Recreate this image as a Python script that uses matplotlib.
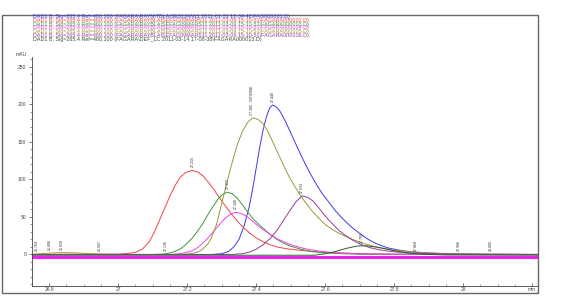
import matplotlib
matplotlib.use("Agg")
import matplotlib.pyplot as plt
from matplotlib.patches import Rectangle

plt.rcParams['font.family'] = ['Liberation Sans', 'DejaVu Sans']

# header lines (one per trace)
headers = [
    "DAD1 B, Sig=265,4 Ref=460,100 (FAGARA\\RAYN\\TBLAISE31JAN11 2011-01-31 12-34-42\\FAG000001.D)",
    "DAD1 B, Sig=265,4 Ref=460,100 (FAGARA\\RAYBLAISEFAG09MARS11 2011-03-09 15-10-51\\FAGARA000002.D)",
    "DAD1 B, Sig=265,4 Ref=460,100 (FAGARA\\RAYBLAISEFAG09MARS11 2011-03-09 15-10-51\\FAGARA000003.D)",
    "DAD1 B, Sig=265,4 Ref=460,100 (FAGARA\\RAYBLAISEFAG09MARS11 2011-03-09 15-10-51\\FAGARA000004.D)",
    "DAD1 B, Sig=265,4 Ref=460,100 (FAGARA\\RAYBLAISEFAG09MARS11 2011-03-09 15-10-51\\FAGARA000005.D)",
    "DAD1 B, Sig=265,4 Ref=460,100 (FAGARA\\RAYBLAISEFAG09MARS11 2011-03-09 15-10-51\\FAGARA000006.D)",
    "DAD1 B, Sig=265,4 Ref=460,100 (FAGARA\\DEF_LC 2011-03-14 17-08-38\\FAGARA000013.D)",
]
colors = ["#3a3aee", "#f04545", "#3a9a3a", "#f040f0", "#9a9a3a", "#9a3a9a", "#2f5a2f"]

# traces (time in min, signal in mAU)
blue_t = [26.75, 27.27, 27.30, 27.32, 27.335, 27.35, 27.365, 27.38, 27.39, 27.40, 27.41, 27.42,
          27.43, 27.44, 27.448, 27.46, 27.47, 27.485, 27.50, 27.515, 27.53, 27.545, 27.56, 27.575,
          27.59, 27.61, 27.63, 27.65, 27.675, 27.70, 27.725, 27.75, 27.78, 27.81, 27.85, 27.90,
          27.96, 28.05, 28.217]
blue_y = [0, 0, 1, 4, 10, 20, 38, 64, 88, 115, 142, 166,
          184, 196, 199, 196, 190, 177, 162, 147, 132, 118, 105, 93,
          82, 70, 58, 48, 37, 28, 20, 14, 9, 6, 3.5, 2,
          1, 0.3, 0]

red_t = [26.75, 27.00, 27.03, 27.05, 27.07, 27.09, 27.105, 27.12, 27.135, 27.15, 27.165, 27.18,
         27.195, 27.213, 27.23, 27.245, 27.26, 27.275, 27.29, 27.305, 27.32, 27.335, 27.35, 27.365,
         27.38, 27.40, 27.42, 27.44, 27.46, 27.49, 27.52, 27.56, 27.60, 27.65, 27.70, 27.80, 28.217]
red_y = [0, 0.5, 1.5, 3, 7, 17, 30, 46, 62, 78, 92, 103,
         109, 112, 110, 105, 97, 88, 78, 68, 59, 50, 42, 35,
         29, 22, 17, 13, 10, 7.5, 6, 4, 3, 2, 1, 0.3, 0]

green_t = [26.75, 27.10, 27.13, 27.15, 27.17, 27.185, 27.20, 27.215, 27.23, 27.245, 27.26, 27.275,
           27.29, 27.30, 27.315, 27.33, 27.345, 27.36, 27.375, 27.39, 27.405, 27.42, 27.44, 27.46,
           27.48, 27.50, 27.53, 27.56, 27.60, 27.65, 27.70, 28.217]
green_y = [0, 0, 0.5, 2, 5, 9, 15, 22, 31, 41, 53, 64,
           74, 79, 83, 81, 75, 66, 57, 48, 41, 35, 27, 20,
           15, 11, 7, 4, 2, 1, 0.3, 0]

magenta_t = [26.75, 27.15, 27.18, 27.20, 27.215, 27.23, 27.245, 27.26, 27.275, 27.29, 27.305, 27.32,
             27.335, 27.345, 27.36, 27.375, 27.39, 27.405, 27.42, 27.44, 27.46, 27.48, 27.50, 27.53,
             27.56, 27.59, 27.63, 27.70, 27.80, 28.217]
magenta_y = [0, 0, 1, 3, 5, 9, 15, 22, 30, 38, 46, 52,
             55.5, 56, 54, 50, 44, 38, 33, 27, 21, 17, 13, 9,
             6, 4, 2, 0.8, 0.2, 0]

olive_t = [26.75, 26.77, 26.80, 26.84, 26.88, 26.92, 26.96, 27.00, 27.18, 27.21, 27.23, 27.245,
           27.26, 27.27, 27.285, 27.30, 27.315, 27.33, 27.345, 27.36, 27.375, 27.39, 27.405, 27.42,
           27.435, 27.45, 27.465, 27.48, 27.495, 27.51, 27.525, 27.54, 27.56, 27.58, 27.60, 27.625,
           27.65, 27.68, 27.71, 27.74, 27.77, 27.80, 27.85, 27.90, 27.95, 28.05, 28.217]
olive_y = [0, 0.8, 1.8, 2.5, 2, 1, 0.3, 0, 0, 1, 3, 7,
           14, 22, 40, 68, 96, 122, 146, 164, 176, 182, 180, 174,
           163, 148, 133, 118, 104, 92, 81, 71, 59, 49, 40, 32,
           26, 20, 15, 11, 8, 5.5, 3.5, 2, 1, 0.3, 0]

purple_t = [26.75, 27.33, 27.36, 27.38, 27.40, 27.42, 27.44, 27.46, 27.48, 27.50, 27.515, 27.533,
            27.55, 27.565, 27.58, 27.595, 27.61, 27.625, 27.64, 27.66, 27.68, 27.70, 27.73, 27.76,
            27.80, 27.85, 27.92, 28.00, 28.217]
purple_y = [0, 0, 1, 3, 7, 13, 21, 32, 46, 60, 70, 78,
            76, 71, 63, 54, 46, 39, 32, 25, 19, 14, 9, 6,
            3.5, 2, 1, 0.3, 0]

dark_t = [26.75, 27.57, 27.60, 27.63, 27.66, 27.69, 27.705, 27.72, 27.745, 27.77, 27.80, 27.83,
          27.86, 27.90, 27.95, 28.217]
dark_y = [-1, -1, 1, 4, 8, 11, 11.5, 11.5, 10, 8, 5, 2.5,
          1, 0, -0.7, -1]

baseline_level = -4

# peak annotations: (time, apex height, text)
peak_labels = [
    (26.764, 0.5, "26.764"), (26.803, 1.5, "26.806"), (26.837, 2.5, "26.839"),
    (26.947, 0, "26.947"), (27.138, 0.5, "27.136"), (27.215, 112, "27.215"),
    (27.317, 83, "27.317"), (27.342, 56, "27.340"), (27.389, 182, "27.382 - NITIDINE"),
    (27.448, 199, "27.448"), (27.533, 78, "27.533"), (27.705, 11.5, "27.705"),
    (27.864, 0.5, "27.868"), (27.986, 0, "27.986"), (28.080, 0, "28.080"),
]

traces = [(blue_t, blue_y), (red_t, red_y), (green_t, green_y), (magenta_t, magenta_y),
          (olive_t, olive_y), (purple_t, purple_y), (dark_t, dark_y)]

W, H = 580, 296
fig = plt.figure(figsize=(W / 100, H / 100), dpi=100)
ax = fig.add_axes([32 / W, 10 / H, 506 / W, 229 / H])

ax.axhline(baseline_level, color="#ee22ee", lw=2.2, zorder=1)
for (t, y), c in zip(traces, colors):
    ax.plot(t, y, color=c, lw=0.7, zorder=2)

for t, h, s in peak_labels:
    ax.text(t, h + 4, s, rotation=90, ha="center", va="bottom", fontsize=2.6, color="#333333")

ax.set_xlim(26.751, 28.217)
ax.set_ylim(-42, 263)
ax.set_xticks([26.8, 27.0, 27.2, 27.4, 27.6, 27.8, 28.0, 28.2])
ax.set_xticklabels(["26.8", "27", "27.2", "27.4", "27.6", "27.8", "28", "min"])
ax.set_xticks([26.8 + 0.05 * i for i in range(-1, 29)], minor=True)
ax.set_yticks([0, 50, 100, 150, 200, 250])
ax.set_yticks(list(range(-40, 261, 10)), minor=True)
ax.tick_params(axis="y", which="major", labelsize=3.6, length=2.5, width=0.5,
               colors="#444444", pad=1.5)
ax.tick_params(axis="y", which="minor", length=1.3, width=0.4, colors="#444444")
ax.tick_params(axis="x", which="major", labelsize=3.6, length=2.0, width=0.5,
               colors="#444444", pad=0.8, direction="in")
ax.tick_params(axis="x", which="minor", length=1.2, width=0.4, colors="#444444", direction="in")
for side in ["top", "right"]:
    ax.spines[side].set_visible(False)
for side in ["left", "bottom"]:
    ax.spines[side].set_color("#444444")
    ax.spines[side].set_linewidth(0.6)

fig.text(16 / W, 1 - 54 / H, "mAU", fontsize=3.6, color="#444444", va="center")

for i, (s, c) in enumerate(zip(headers, colors)):
    fig.text(33 / W, 1 - (16.6 + 3.75 * i) / H, s, fontsize=3.9, color=c, va="center")

fig.patches.append(Rectangle((2 / W, 1 - 293 / H), 536 / W, 278 / H, transform=fig.transFigure,
                             fill=False, edgecolor="#666666", lw=1.0))

fig.savefig("out.png", dpi=100)
